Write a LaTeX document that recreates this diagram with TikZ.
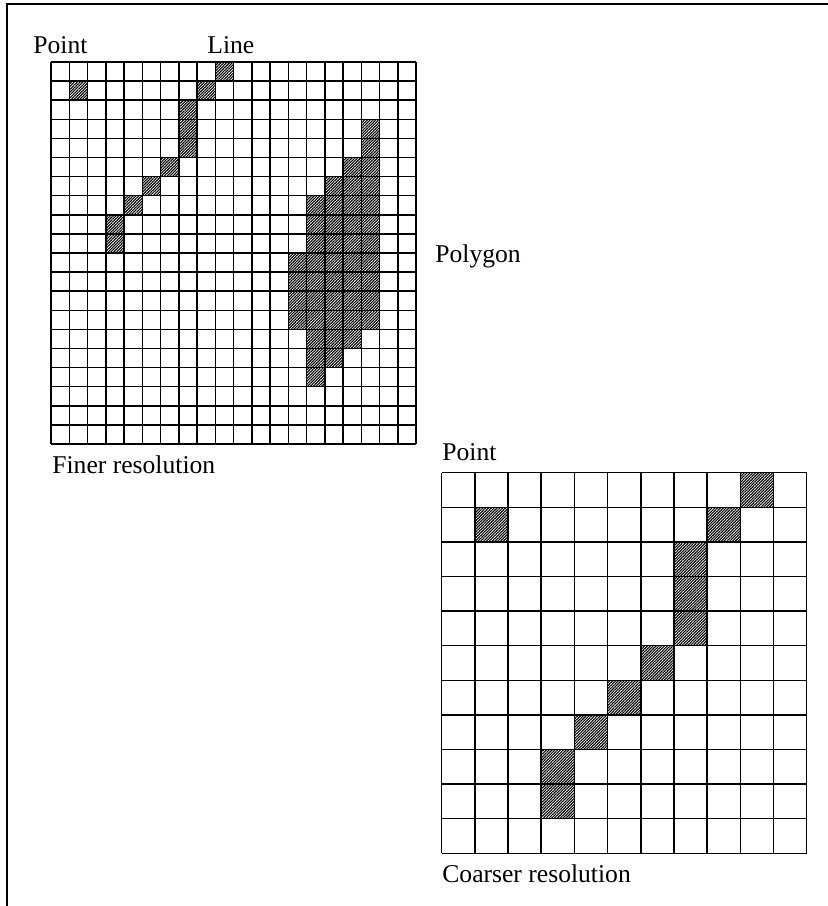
\documentclass[tikz,border=0pt]{standalone}
\usepackage{fontspec}
\setmainfont{Liberation Serif}
\usetikzlibrary{patterns.meta}
\begin{document}
\begin{tikzpicture}[x=0.5pt,y=-0.5pt,
  gridline/.style={line width=0.75pt},
  hatch/.style={pattern={Lines[angle=45,distance=1pt,line width=0.55pt]}},
  lbl/.style={anchor=base west,inner sep=0pt,font=\fontsize{12.8}{15}\selectfont}]
\useasboundingbox (0,0) rectangle (828,906);
\fill[white] (0,0) rectangle (828,906);
\draw[line width=1pt] (7,906) -- (7,4) -- (828,4);
% ---------- fine grid ----------
\def\fx{51}\def\fy{62}\def\fw{18.25}\def\fh{19.1}
\foreach \c/\r in {1/1,9/0,8/1,7/2,7/3,7/4,6/5,5/6,4/7,3/8,3/9}
  \fill[hatch] ({\fx+\c*\fw},{\fy+\r*\fh}) rectangle ++(\fw,\fh);
\foreach \r/\a/\b in {3/17/17,4/17/17,5/16/17,6/15/17,7/14/17,8/14/17,9/14/17,
  10/13/17,11/13/17,12/13/17,13/13/17,14/14/16,15/14/15,16/14/14}
  \fill[hatch] ({\fx+\a*\fw},{\fy+\r*\fh}) rectangle ({\fx+(\b+1)*\fw},{\fy+(\r+1)*\fh});
\foreach \i in {0,...,20}{
  \draw[gridline] ({\fx+\i*\fw},\fy) -- ({\fx+\i*\fw},{\fy+20*\fh});
  \draw[gridline] (\fx,{\fy+\i*\fh}) -- ({\fx+20*\fw},{\fy+\i*\fh});
}
% ---------- coarse grid ----------
\def\cx{441.7}\def\cy{472.7}\def\cw{33.18}\def\ch{34.6}
\foreach \c/\r in {1/1,9/0,8/1,7/2,7/3,7/4,6/5,5/6,4/7,3/8,3/9}
  \fill[hatch] ({\cx+\c*\cw},{\cy+\r*\ch}) rectangle ++(\cw,\ch);
\foreach \i in {0,...,11}{
  \draw[gridline] ({\cx+\i*\cw},\cy) -- ({\cx+\i*\cw},{\cy+11*\ch});
  \draw[gridline] (\cx,{\cy+\i*\ch}) -- ({\cx+11*\cw},{\cy+\i*\ch});
}
% ---------- labels ----------
\node[lbl] (pointf) at (33,53) {Point};
\node[lbl] (linef) at (207,53) {Line};
\node[lbl] (polyf) at (435,262) {Polygon};
\node[lbl] (finer) at (52,473) {Finer resolution};
\node[lbl] (pointc) at (442,460) {Point};
\node[lbl] (coarser) at (442,882) {Coarser resolution};
\end{tikzpicture}
\end{document}
